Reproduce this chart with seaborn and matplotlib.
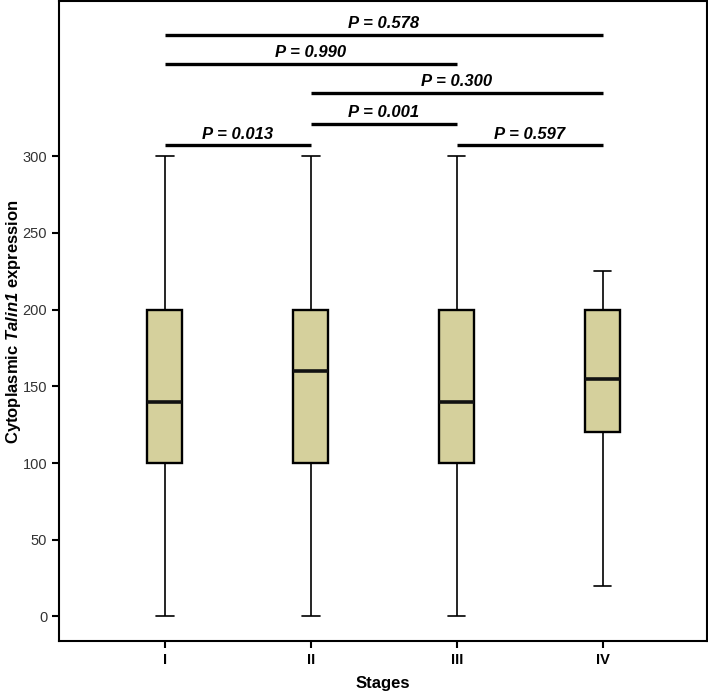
import numpy as np
import pandas as pd
import matplotlib
matplotlib.use("Agg")
import matplotlib.pyplot as plt
import seaborn as sns

# five-number summaries (min, Q1, median, Q3, max)
stages = ["I", "II", "III", "IV"]
stage_I = [0, 100, 140, 200, 300]
stage_II = [0, 100, 160, 200, 300]
stage_III = [0, 100, 140, 200, 300]
stage_IV = [20, 120, 155, 200, 225]

# pairwise comparisons: (group a, group b, height, label)
pairs_a = ["I", "I", "II", "II", "I", "III"]
pairs_b = ["IV", "III", "IV", "III", "II", "IV"]
pair_y = [379, 360, 341, 321, 307, 307]
pair_p = ["0.578", "0.990", "0.300", "0.001", "0.013", "0.597"]

sns.set_style("ticks", {"axes.edgecolor": "black", "text.color": "black",
                        "axes.labelcolor": "black"})
plt.rcParams["font.family"] = ["Liberation Sans", "DejaVu Sans"]
plt.rcParams["mathtext.fontset"] = "custom"
plt.rcParams["mathtext.bfit"] = "Liberation Sans:italic:bold"
plt.rcParams["mathtext.rm"] = "Liberation Sans"

df = pd.DataFrame({
    "stage": np.repeat(stages, 5),
    "value": stage_I + stage_II + stage_III + stage_IV,
})

fig = plt.figure(figsize=(7.08, 6.97), dpi=100)
ax = fig.add_axes([0.0833, 0.0803, 0.9153, 0.918])

sns.boxplot(data=df, x="stage", y="value", order=stages, color="#d5d09c",
            saturation=1, width=0.24, whis=1.5, linecolor="black", linewidth=1.2,
            showfliers=False, ax=ax,
            boxprops=dict(linewidth=1.7),
            medianprops=dict(linewidth=2.6, color="#111111"))

pos = {s: i for i, s in enumerate(stages)}
for a, b, y, p in zip(pairs_a, pairs_b, pair_y, pair_p):
    xa, xb = pos[a], pos[b]
    ax.plot([xa, xb], [y, y], color="black", lw=2.4, solid_capstyle="butt")
    ax.text((xa + xb) / 2, y + 2.5, "P = " + p, ha="center", va="bottom",
            fontsize=12, fontweight="bold", fontstyle="italic", color="black")

ax.set_xlim(-0.725, 3.715)
ax.set_ylim(-16, 401)
ax.set_yticks([0, 50, 100, 150, 200, 250, 300])
for sp in ax.spines.values():
    sp.set_linewidth(1.5)
    sp.set_visible(True)
ax.tick_params(axis="both", length=5, width=1.5, colors="black")
ax.tick_params(axis="y", labelsize=10.5, labelcolor="#333333")
ax.tick_params(axis="x", labelsize=10.5)
for lab in ax.get_xticklabels():
    lab.set_fontweight("bold")
ax.set_xlabel("Stages", fontsize=12, fontweight="bold")
ax.set_ylabel(r"Cytoplasmic $\mathbfit{Talin1}$ expression", fontsize=12,
              fontweight="bold")
ax.xaxis.set_label_coords(0.5, -0.055)
ax.yaxis.set_label_coords(-0.056, 0.5)

fig.savefig("out.png", dpi=100)
